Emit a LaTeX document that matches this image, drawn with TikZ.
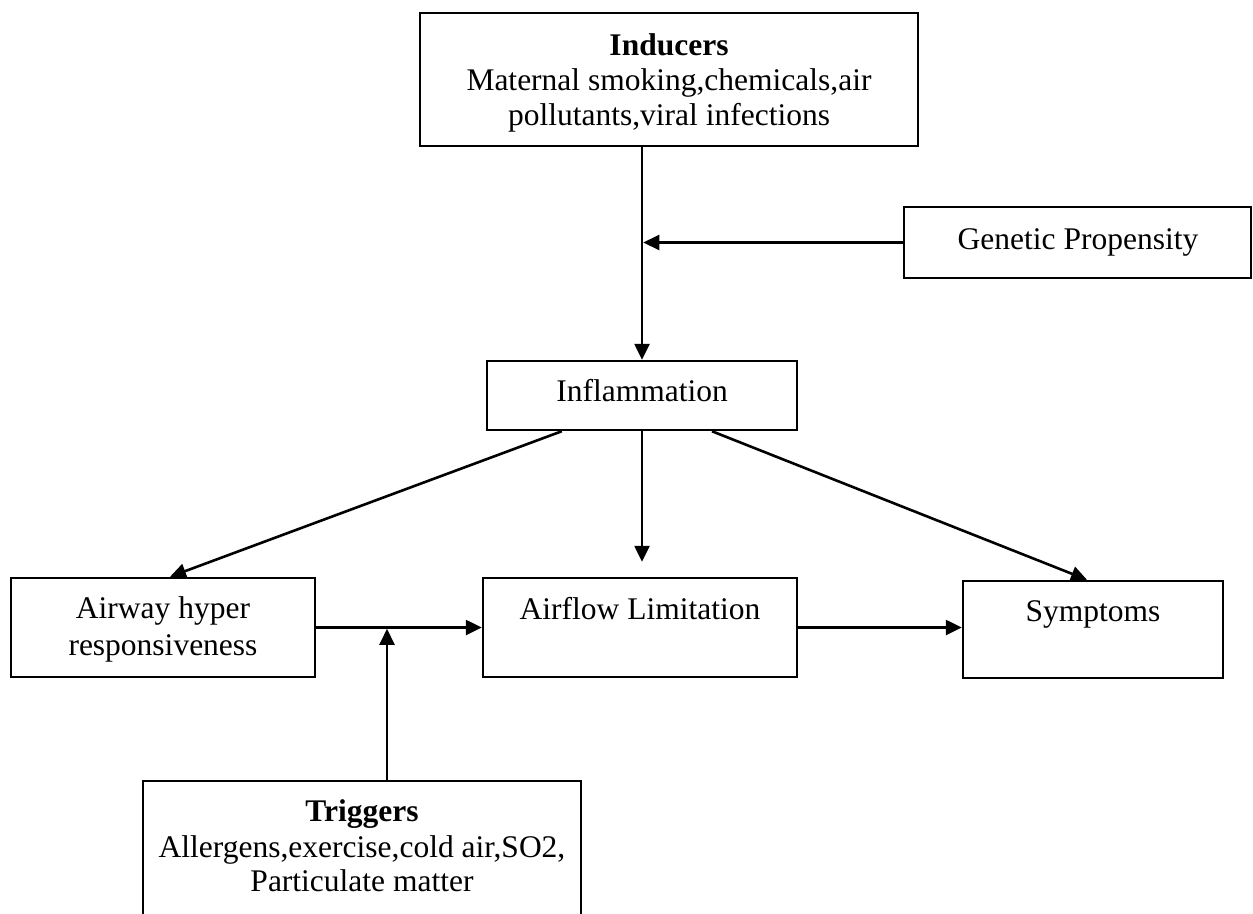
\documentclass[tikz,border=0pt]{standalone}
\usepackage{fontspec}
\setmainfont{Liberation Serif}
\usetikzlibrary{arrows.meta,calc}
\begin{document}
\begin{tikzpicture}[x=1pt,y=-1pt,
  boxnode/.style={draw=black,line width=2.5pt,rectangle,inner sep=0pt},
  hidden/.style={draw=none,rectangle,inner sep=0pt},
  txt/.style={inner sep=0pt,anchor=base,font=\fontsize{31.5}{36}\selectfont},
  btxt/.style={txt,font=\fontsize{31.5}{36}\selectfont\bfseries},
  arr/.style={line width=2.6pt,-{Triangle[length=16pt,width=15pt]}},
  plain/.style={line width=2.5pt}]
\useasboundingbox[fill=white] (0,0) rectangle (1253,913);
% boxes
\node[boxnode,minimum width=498pt,minimum height=133pt] (ind) at (669,79.5) {};
\node[boxnode,minimum width=347pt,minimum height=71pt] (gen) at (1077.5,242.5) {};
\node[boxnode,minimum width=310pt,minimum height=69pt] (infl) at (642,395.5) {};
\node[boxnode,minimum width=304pt,minimum height=99pt] (airway) at (163,627.5) {};
\node[boxnode,minimum width=314pt,minimum height=99pt] (airflow) at (640,627.5) {};
\node[boxnode,minimum width=260pt,minimum height=97pt] (symp) at (1093,629.5) {};
\node[hidden,minimum width=438pt,minimum height=134pt] (trig) at (362,848) {};
\draw[plain] (trig.south west) -- (trig.north west) -- (trig.north east) -- (trig.south east);
% texts
\node[btxt] (indt1) at (669,55) {Inducers};
\node[txt] (indt2) at (669,90) {Maternal smoking,chemicals,air};
\node[txt] (indt3) at (669,125) {pollutants,viral infections};
\node[txt] (gent) at (1078,249) {Genetic Propensity};
\node[txt] (inflt) at (642,401) {Inflammation};
\node[txt] (awt1) at (163,618) {Airway hyper};
\node[txt] (awt2) at (163,655) {responsiveness};
\node[txt] (aft) at (640,619) {Airflow Limitation};
\node[txt] (sympt) at (1093,621) {Symptoms};
\node[btxt] (trt1) at (362,821) {Triggers};
\node[txt] (trt2) at (362,857) {Allergens,exercise,cold air,SO2,};
\node[txt] (trt3) at (362,891) {Particulate matter};
% connectors
\draw[arr] (ind.south -| infl.north) -- (infl.north);
\draw[arr,shorten >=1.3pt] (gen.west) -- (gen.west -| infl.north);
\draw[arr] ($(infl.south west)+(76,0)$) -- ($(airway.north)+(7,0)$);
\draw[arr,shorten >=15pt] (infl.south) -- (airflow.north -| infl.south);
\draw[arr] ($(infl.south)+(70,0)$) -- ($(symp.north)+(-6,0)$);
\draw[arr] (airway.east) -- (airway.east -| airflow.west);
\draw[arr] (airflow.east) -- (airflow.east -| symp.west);
\coordinate (trigtop) at (387,781);
\draw[arr,shorten >=1.3pt] (trigtop) -- (trigtop |- airway.east);
\end{tikzpicture}
\end{document}
